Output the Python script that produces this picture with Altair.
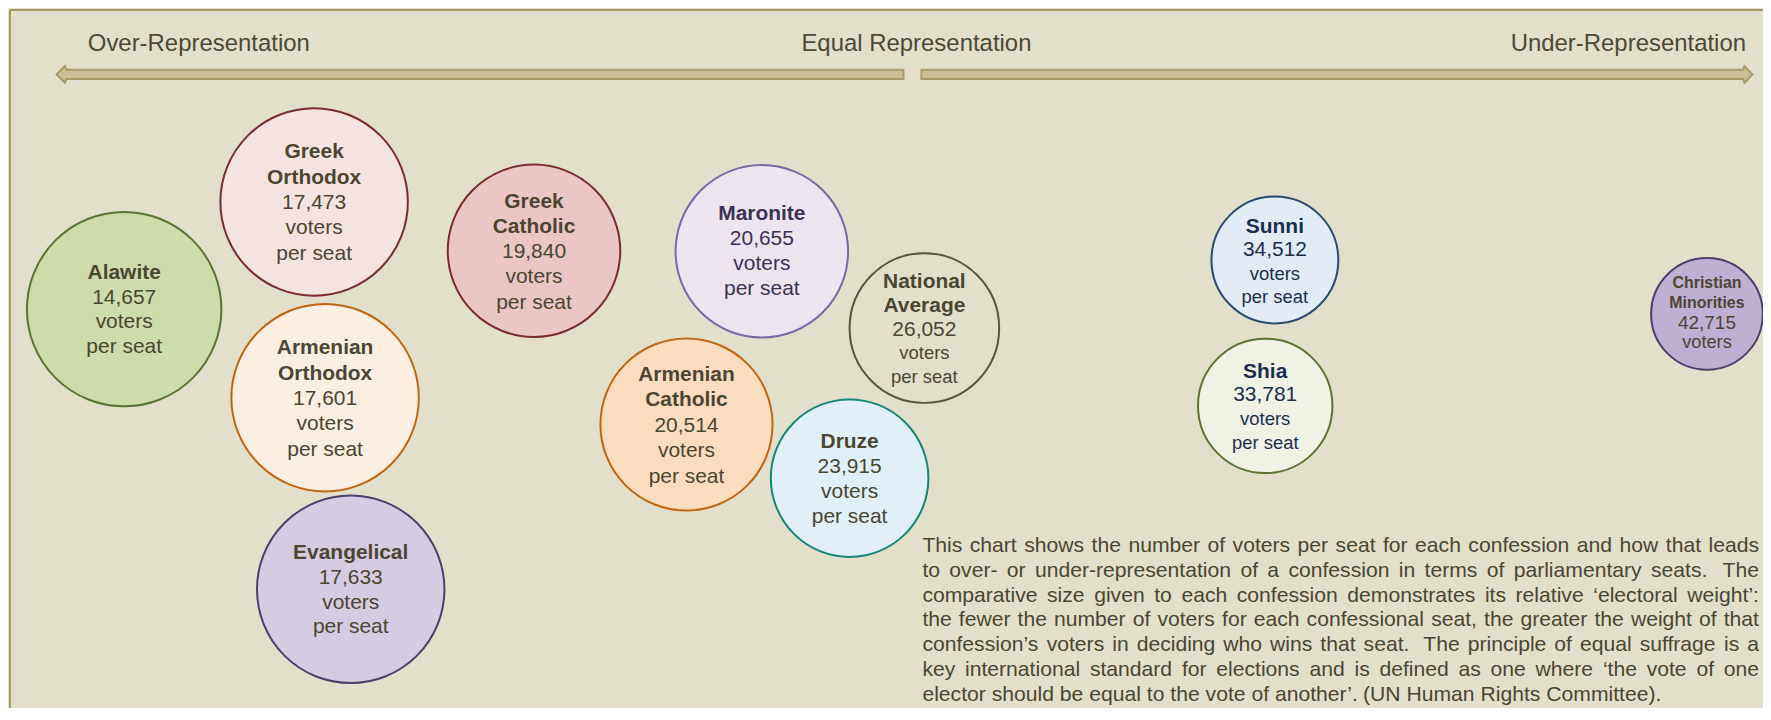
import re
import altair as alt
import pandas as pd

# ---------------- data ----------------
confessions = ["Alawite", "Greek Orthodox", "Armenian Orthodox", "Evangelical",
               "Greek Catholic", "Armenian Catholic", "Maronite", "National Average",
               "Druze", "Sunni", "Shia", "Christian Minorities"]
name_lines = [["Alawite"], ["Greek", "Orthodox"], ["Armenian", "Orthodox"], ["Evangelical"],
              ["Greek", "Catholic"], ["Armenian", "Catholic"], ["Maronite"], ["National", "Average"],
              ["Druze"], ["Sunni"], ["Shia"], ["Christian", "Minorities"]]
voters_per_seat = [14657, 17473, 17601, 17633, 19840, 20514, 20655, 26052,
                   23915, 34512, 33781, 42715]
unit_lines = [["voters", "per seat"]] * 11 + [["voters"]]

scale_labels = ["Over-Representation", "Equal Representation", "Under-Representation"]

para_lines = [
    "This chart shows the number of voters per seat for each confession and how that leads",
    "to over- or under-representation of a confession in terms of parliamentary seats.  The",
    "comparative size given to each confession demonstrates its relative \u2018electoral weight\u2019:",
    "the fewer the number of voters for each confessional seat, the greater the weight of that",
    "confession\u2019s voters in deciding who wins that seat.  The principle of equal suffrage is a",
    "key international standard for elections and is defined as one where \u2018the vote of one",
    "elector should be equal to the vote of another\u2019. (UN Human Rights Committee).",
]

# ---------------- layout (bubble placement, in page pixels) ----------------
center_x = [124.5, 315, 326, 351.7, 535.5, 688.4, 764, 927, 852, 1278.5, 1268.8, 1711.8]
center_y = [309, 201.5, 397.8, 590, 250.5, 424.7, 251, 328, 478.5, 259.7, 406, 313.8]
radius = [97.5, 94, 94, 94, 86.5, 86.3, 86.5, 75, 79, 63.6, 67.4, 56]

# ---------------- styles ----------------
fills = ["#cddcaa", "#f4e3e1", "#fdeee2", "#d6cce1", "#ecc5c6", "#fcdcbf", "#ece5f0",
         "transparent", "#e1f0f6", "#e3ecf6", "#eff2e5", "#bfafd3"]
strokes = ["#5b7533", "#7b2c2f", "#bf6512", "#4b3f6c", "#7b2c2f", "#bf6512", "#7a68a4",
           "#5a5540", "#17857a", "#2b4a72", "#5d7332", "#4b3f6c"]
OLIVE = "#4b4631"
text_cols = [OLIVE, OLIVE, OLIVE, OLIVE, OLIVE, OLIVE, "#3d3155", OLIVE, OLIVE,
             "#1c2e4e", "#1c2e4e", OLIVE]
name_size = [21] * 11 + [16]
num_size = [21] * 11 + [19]
unit_size = [21, 21, 21, 21, 21, 21, 21, 18.5, 21, 18.5, 18.5, 18.3]
line_step = [24.7, 25.4, 25.4, 24.8, 25.3, 25.6, 25.1, 23.9, 25, 23.3, 23.9, 20.3]
line_shift = [0.7, 1, 1.4, 1, 1.3, 1.3, 0, 1.5, 1.2, 2, 1.5, -1]

BG = "#e2e0cb"
FRAME = "#a89b68"
ARROW_FILL = "#c9bf94"
FONT = "Liberation Sans"

W, H = 1760, 700
X0, Y0 = 8, 8
xs = alt.Scale(domain=[X0, X0 + W], nice=False, zero=False)
ys = alt.Scale(domain=[Y0, Y0 + H], nice=False, zero=False, reverse=True)


def X(field, **kw):
    return alt.X(field, type="quantitative", scale=xs, axis=None, **kw)


def Y(field, **kw):
    return alt.Y(field, type="quantitative", scale=ys, axis=None, **kw)


# ---------------- frame ----------------
frame_df = pd.DataFrame({"x": [10, 10], "x2": [1780, 10], "y": [9, 9], "y2": [9, 760]})
frame = alt.Chart(frame_df).mark_rule(color=FRAME, strokeWidth=2).encode(
    x=X("x"), x2="x2", y=Y("y"), y2="y2")

# ---------------- arrows ----------------
arrow_df = pd.DataFrame({
    "arrow": ["L"] * 4 + ["R"] * 4,
    "x":  [56.7, 65.0, 66.6, 906.0, 924.0, 1748.0, 1749.4, 1757.4],
    "y":  [73.6, 65.2, 69.0, 69.0, 69.0, 69.0, 65.2, 73.6],
    "y2": [73.6, 82.0, 78.2, 78.2, 78.2, 78.2, 82.0, 73.6],
})
arrows = alt.Chart(arrow_df).mark_area(
    orient="vertical", fill=ARROW_FILL, stroke=FRAME, strokeWidth=2, opacity=1
).encode(x=X("x"), y=Y("y"), y2="y2", detail="arrow:N")

# ---------------- top labels ----------------
top_pos = [(88, "left"), (919, "center"), (1751, "right")]
top_layers = []
for lab, (tx, al) in zip(scale_labels, top_pos):
    d = pd.DataFrame({"x": [tx], "y": [50.2], "t": [lab]})
    top_layers.append(alt.Chart(d).mark_text(
        align=al, baseline="alphabetic", font=FONT, fontSize=24, color="#4d4935"
    ).encode(x=X("x"), y=Y("y"), text="t:N"))

# ---------------- bubbles ----------------
bub_df = pd.DataFrame({
    "confession": confessions, "voters": voters_per_seat,
    "cx": center_x, "cy": center_y,
    "diam2": [(2 * r) ** 2 for r in radius],   # Vega circle size = diameter^2
    "fill": fills, "stroke": strokes,
})
bubbles = alt.Chart(bub_df).mark_circle(opacity=1, strokeWidth=2, strokeOpacity=1).encode(
    x=X("cx"), y=Y("cy"),
    size=alt.Size("diam2:Q", scale=None),
    fill=alt.Fill("fill:N", scale=None),
    stroke=alt.Stroke("stroke:N", scale=None),
)

rows = []
for i, c in enumerate(confessions):
    lines = [(t, True, name_size[i]) for t in name_lines[i]]
    lines.append((f"{voters_per_seat[i]:,}", False, num_size[i]))
    lines += [(t, False, unit_size[i]) for t in unit_lines[i]]
    n = len(lines)
    for k, (t, b, fs) in enumerate(lines):
        rows.append({"x": center_x[i], "y": center_y[i] + line_shift[i] + (k - (n - 1) / 2) * line_step[i],
                     "t": t, "bold": b, "fs": fs, "col": text_cols[i]})
lab_df = pd.DataFrame(rows)


def label_layer(df, weight):
    return alt.Chart(df).mark_text(
        align="center", baseline="middle", font=FONT, fontWeight=weight
    ).encode(x=X("x"), y=Y("y"), text="t:N",
             size=alt.Size("fs:Q", scale=None), color=alt.Color("col:N", scale=None))


bold_labels = label_layer(lab_df[lab_df["bold"]], "bold")
reg_labels = label_layer(lab_df[~lab_df["bold"]], "normal")

# ---------------- justified paragraph ----------------
AW = {" ": 278, "!": 278, "'": 191, "(": 333, ")": 333, ",": 278, "-": 333, ".": 278,
      ":": 278, ";": 278, "\u2018": 222, "\u2019": 222,
      "A": 667, "B": 667, "C": 722, "D": 722, "E": 667, "F": 611, "G": 778, "H": 722,
      "I": 278, "J": 500, "K": 667, "L": 556, "M": 833, "N": 722, "O": 778, "P": 667,
      "Q": 778, "R": 722, "S": 667, "T": 611, "U": 722, "V": 667, "W": 944, "X": 667,
      "Y": 667, "Z": 611,
      "a": 556, "b": 556, "c": 500, "d": 556, "e": 556, "f": 278, "g": 556, "h": 556,
      "i": 222, "j": 222, "k": 500, "l": 222, "m": 833, "n": 556, "o": 556, "p": 556,
      "q": 556, "r": 333, "s": 500, "t": 278, "u": 556, "v": 500, "w": 722, "x": 500,
      "y": 500, "z": 500}


def tw(s, size):
    return sum(AW.get(ch, 556) for ch in s) * size / 1000.0


PARA_LEFT, PARA_RIGHT = 925, 1764
PARA_TOP, PARA_STEP = 546.2, 25.0
PARA_SIZE = 21.2
prow = []
for li, line in enumerate(para_lines):
    toks = re.split(r"( +)", line)
    words, gaps = toks[0::2], toks[1::2]
    extra = 0.0
    if li < len(para_lines) - 1 and gaps:
        extra = max(0.0, (PARA_RIGHT - PARA_LEFT - tw(line, PARA_SIZE)) / len(gaps))
    x = PARA_LEFT
    for j, w in enumerate(words):
        prow.append({"x": x, "y": PARA_TOP + li * PARA_STEP, "t": w})
        x += tw(w, PARA_SIZE)
        if j < len(gaps):
            x += tw(gaps[j], PARA_SIZE) + extra
para_df = pd.DataFrame(prow)
paragraph = alt.Chart(para_df).mark_text(
    align="left", baseline="middle", font=FONT, fontSize=PARA_SIZE, color=OLIVE
).encode(x=X("x"), y=Y("y"), text="t:N")

chart = alt.layer(frame, arrows, *top_layers, bubbles, bold_labels, reg_labels, paragraph).properties(
    width=W, height=H, background=BG, padding=0,
    autosize=alt.AutoSizeParams(type="none"),
).configure_view(stroke=None)

chart.save("out.html", embed_options={"renderer": "svg", "actions": False})
